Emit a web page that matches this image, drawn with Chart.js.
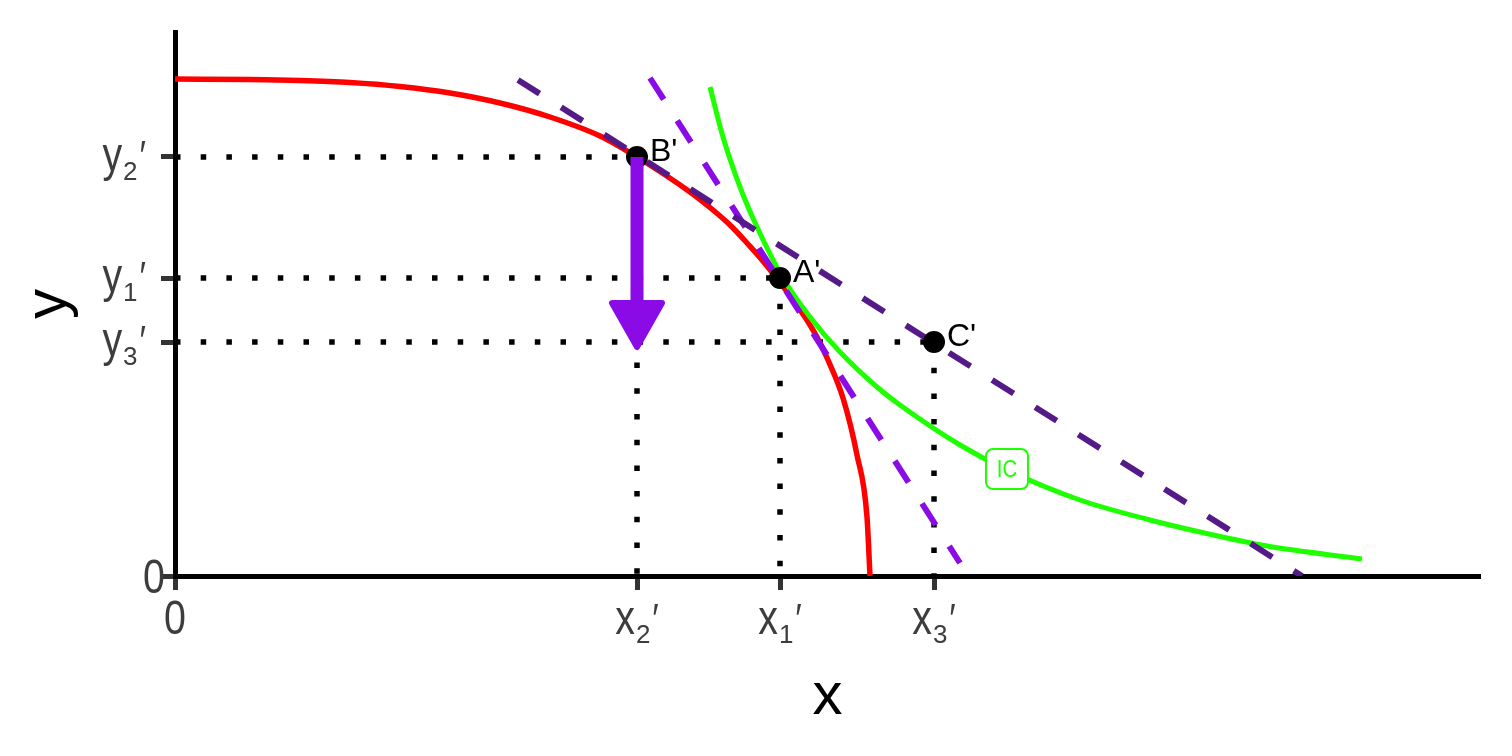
<!DOCTYPE html>
<html>
<head>
<meta charset="utf-8">
<title>PPF, indifference curve and price lines</title>
<script src="https://cdn.jsdelivr.net/npm/chart.js@4.4.1/dist/chart.umd.min.js"></script>
<style>
  html, body { margin: 0; padding: 0; background: #fff; }
  #wrap { width: 1512px; height: 756px; }
</style>
</head>
<body>
<div id="wrap"><canvas id="chart" width="1512" height="756"></canvas></div>
<script>
// production possibility frontier (red)
const ppfX = [0, 0.75, 1.25, 1.75, 2.25, 2.75, 3.25, 3.75, 4.25, 4.62, 5.15, 5.38, 5.55, 5.72, 5.92, 6.38, 6.53, 6.68, 6.82, 6.92, 6.95];
const ppfY = [4.97, 4.965, 4.955, 4.935, 4.895, 4.83, 4.73, 4.59, 4.40, 4.19, 3.84, 3.66, 3.51, 3.33, 3.10, 2.46, 2.16, 1.78, 1.21, 0.59, 0];

// indifference curve (green)
const icX = [5.35, 5.48, 5.65, 5.82, 6.08, 6.35, 6.65, 7.02, 7.25, 7.85, 8.32, 9.05, 9.75, 10.25, 10.92, 11.87];
const icY = [4.89, 4.39, 3.89, 3.49, 2.98, 2.59, 2.24, 1.89, 1.71, 1.31, 1.06, 0.76, 0.56, 0.44, 0.30, 0.17];
const icLabel = 'IC';
const icLabelX = 8.32;
const icLabelY = 1.07;

// price lines
const budgetX = [3.43, 11.27];
const budgetY = [4.96, 0];
const tangentX = [4.75, 7.85];
const tangentY = [4.98, 0.13];

// labelled points
const pointNames = ["A'", "B'", "C'"];
const pointX = [6.05, 4.62, 7.59];
const pointY = [2.98, 4.19, 2.34];

// arrow from B' down to the y3' level
const arrowFrom = [4.62, 4.19];
const arrowTo = [4.62, 2.26];

// axes
const xTickValues = [0, 4.62, 6.05, 7.59];
const xTickLabels = ['0', 'x_2′', 'x_1′', 'x_3′'];
const yTickValues = [0, 2.34, 2.98, 4.19];
const yTickLabels = ['0', 'y_3′', 'y_1′', 'y_2′'];
const xMax = 13.05;
const yMax = 5.44;

const colors = {
    ppf: '#ff0000',
    ic: '#1eff00',
    budget: '#541a87',
    tangent: '#8a0be6',
    ink: '#000000',
    tick: '#3d3d3d'
};

const NARROW = 0.82;
const SANS = '"Liberation Sans", Arial, sans-serif';

function parseLabel(text) {
    const prime = text.endsWith('′');
    const body = prime ? text.slice(0, -1) : text;
    const [base, sub] = body.split('_');
    return { base, sub: sub || '', prime };
}

function labelWidth(ctx, parts) {
    ctx.font = '48px ' + SANS;
    let w = ctx.measureText(parts.base).width * NARROW;
    if (parts.sub) {
        ctx.font = '26px ' + SANS;
        w += ctx.measureText(parts.sub).width + 1;
    }
    if (parts.prime) {
        ctx.font = '42px ' + SANS;
        w += ctx.measureText('′').width * NARROW + 2;
    }
    return w;
}

function drawLabel(ctx, parts, left, baseline) {
    let x = left;
    ctx.textAlign = 'left';
    ctx.textBaseline = 'alphabetic';

    ctx.save();
    ctx.font = '48px ' + SANS;
    ctx.translate(x, baseline);
    ctx.scale(NARROW, 1);
    ctx.fillText(parts.base, 0, 0);
    x += ctx.measureText(parts.base).width * NARROW;
    ctx.restore();

    if (parts.sub) {
        ctx.font = '26px ' + SANS;
        ctx.fillText(parts.sub, x + 1, baseline + 9);
        x += ctx.measureText(parts.sub).width + 1;
    }
    if (parts.prime) {
        ctx.save();
        ctx.font = '42px ' + SANS;
        ctx.translate(x + 2, baseline - 1);
        ctx.scale(NARROW, 1);
        ctx.fillText('′', 0, 0);
        ctx.restore();
    }
}

const tickLabelPlugin = {
    id: 'tickLabels',
    afterDraw(chart) {
        const { ctx, scales: { x, y } } = chart;
        ctx.save();
        ctx.fillStyle = colors.tick;
        xTickValues.forEach((v, i) => {
            const parts = parseLabel(xTickLabels[i]);
            const w = labelWidth(ctx, parts);
            drawLabel(ctx, parts, x.getPixelForValue(v) - w / 2, x.top + 58);
        });
        yTickValues.forEach((v, i) => {
            const parts = parseLabel(yTickLabels[i]);
            const w = labelWidth(ctx, parts);
            const right = parts.sub ? y.right - 29 : y.right - 10;
            drawLabel(ctx, parts, right - w, y.getPixelForValue(v) + (parts.sub ? 14 : 17));
        });
        ctx.restore();
    }
};

const annotationPlugin = {
    id: 'annotations',
    afterDatasetsDraw(chart) {
        const { ctx, scales: { x, y } } = chart;
        ctx.save();

        // arrow
        const x0 = x.getPixelForValue(arrowFrom[0]);
        const y0 = y.getPixelForValue(arrowFrom[1]);
        const x1 = x.getPixelForValue(arrowTo[0]);
        const y1 = y.getPixelForValue(arrowTo[1]);
        const ang = Math.atan2(y1 - y0, x1 - x0);
        const cos = Math.cos(ang), sin = Math.sin(ang);
        const tipX = x1 - 3 * cos, tipY = y1 - 3 * sin;
        const headLen = 44, headHalf = 25;
        const bx = tipX - headLen * cos, by = tipY - headLen * sin;
        ctx.strokeStyle = colors.tangent;
        ctx.fillStyle = colors.tangent;
        ctx.lineWidth = 13;
        ctx.lineCap = 'butt';
        ctx.beginPath();
        ctx.moveTo(x0, y0);
        ctx.lineTo(bx, by);
        ctx.stroke();
        ctx.lineWidth = 6;
        ctx.lineJoin = 'round';
        ctx.beginPath();
        ctx.moveTo(tipX, tipY);
        ctx.lineTo(bx - headHalf * sin, by + headHalf * cos);
        ctx.lineTo(bx + headHalf * sin, by - headHalf * cos);
        ctx.closePath();
        ctx.fill();
        ctx.stroke();

        // point labels
        ctx.fillStyle = colors.ink;
        ctx.font = '32px ' + SANS;
        ctx.textAlign = 'left';
        ctx.textBaseline = 'alphabetic';
        pointNames.forEach((name, i) => {
            ctx.fillText(name, x.getPixelForValue(pointX[i]) + 13, y.getPixelForValue(pointY[i]) + 3.5);
        });

        // IC label box
        const lx = x.getPixelForValue(icLabelX);
        const ly = y.getPixelForValue(icLabelY);
        ctx.beginPath();
        ctx.roundRect(lx - 21, ly - 20, 42, 40, 7);
        ctx.fillStyle = '#ffffff';
        ctx.fill();
        ctx.lineWidth = 2;
        ctx.strokeStyle = colors.ic;
        ctx.stroke();
        ctx.save();
        ctx.fillStyle = colors.ic;
        ctx.font = '24px ' + SANS;
        ctx.textAlign = 'center';
        ctx.textBaseline = 'middle';
        ctx.translate(lx, ly + 1);
        ctx.scale(0.85, 1);
        ctx.fillText(icLabel, 0, 0);
        ctx.restore();

        ctx.restore();
    }
};

function toPoints(xs, ys) {
    return xs.map((v, i) => ({ x: v, y: ys[i] }));
}

function lineSet(xs, ys, color, width, dash, order, smooth) {
    return {
        data: toPoints(xs, ys),
        showLine: true,
        borderColor: color,
        borderWidth: width,
        borderDash: dash,
        borderCapStyle: 'butt',
        pointRadius: 0,
        pointHoverRadius: 0,
        fill: false,
        cubicInterpolationMode: smooth ? 'monotone' : 'default',
        tension: 0,
        order: order
    };
}

const datasets = [];

// dotted guides from each point to both axes
pointX.forEach((px, i) => {
    datasets.push(lineSet([0, px], [pointY[i], pointY[i]], colors.ink, 5.5, [5.5, 20.2], 10, false));
    datasets.push(lineSet([px, px], [pointY[i], 0], colors.ink, 5.5, [5.5, 20.2], 10, false));
});

datasets.push(lineSet(ppfX, ppfY, colors.ppf, 5.5, [], 6, true));
datasets.push(lineSet(icX, icY, colors.ic, 5, [], 5, true));
datasets.push(lineSet(tangentX, tangentY, colors.tangent, 6, [25.5, 25], 4, false));
datasets.push(lineSet(budgetX, budgetY, colors.budget, 6, [25.5, 25.5], 3, false));
datasets.push({
    data: toPoints(pointX, pointY),
    showLine: false,
    pointRadius: 11,
    pointHoverRadius: 11,
    pointBackgroundColor: colors.ink,
    pointBorderWidth: 0,
    order: 1
});

const axisTitleFont = { family: '"Liberation Sans Narrow", "Liberation Sans", sans-serif', size: 60 };

new Chart(document.getElementById('chart'), {
    type: 'scatter',
    data: { datasets },
    options: {
        responsive: false,
        animation: false,
        events: [],
        layout: { padding: { top: 32, right: 32, left: 0, bottom: 0 } },
        scales: {
            x: {
                type: 'linear',
                min: 0,
                max: xMax,
                afterBuildTicks: (s) => { s.ticks = xTickValues.map(v => ({ value: v })); },
                afterFit: (s) => { s.height = 180; },
                ticks: { display: false },
                grid: { display: true, drawOnChartArea: false, drawTicks: true, tickLength: 14, tickWidth: 5, tickColor: '#333333' },
                border: { display: true, color: colors.ink, width: 5 },
                title: { display: true, text: 'x', color: colors.ink, font: axisTitleFont, padding: { top: 0, bottom: 23 } }
            },
            y: {
                type: 'linear',
                min: 0,
                max: yMax,
                afterBuildTicks: (s) => { s.ticks = yTickValues.map(v => ({ value: v })); },
                afterFit: (s) => { s.width = 175; },
                ticks: { display: false },
                grid: { display: true, drawOnChartArea: false, drawTicks: true, tickLength: 14, tickWidth: 5, tickColor: '#333333' },
                border: { display: true, color: colors.ink, width: 5 },
                title: { display: true, text: 'y', color: colors.ink, font: axisTitleFont, padding: { top: 13, bottom: 0 } }
            }
        },
        plugins: {
            legend: { display: false },
            tooltip: { enabled: false }
        }
    },
    plugins: [annotationPlugin, tickLabelPlugin]
});
</script>
</body>
</html>
